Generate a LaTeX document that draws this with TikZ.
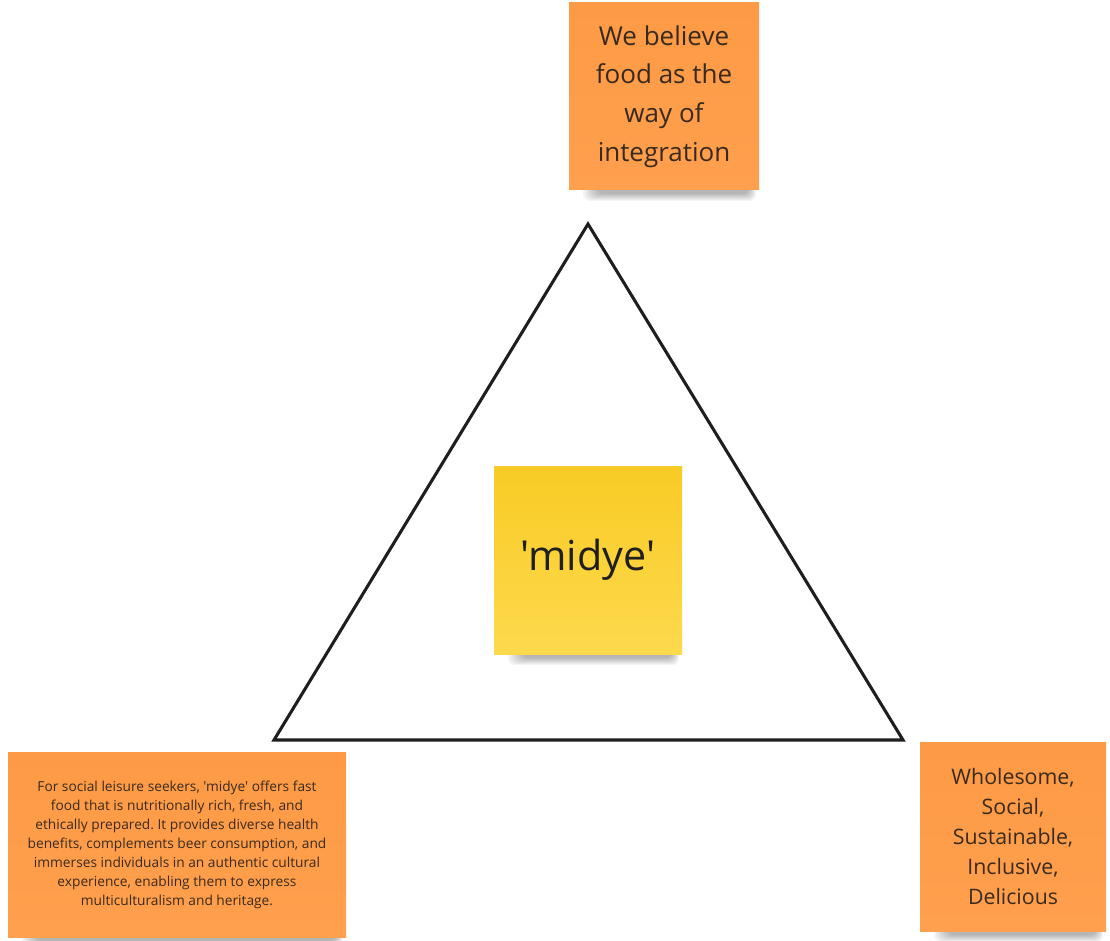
\documentclass[tikz,border=0pt]{standalone}
\usepackage{fontspec}
\setmainfont{Open Sans}[Ligatures=TeXOff]
\usetikzlibrary{calc}
\frenchspacing
\definecolor{orangetop}{HTML}{FD9A45}
\definecolor{orangebot}{HTML}{FFA04E}
\definecolor{yellowtop}{HTML}{F8CB25}
\definecolor{yellowbot}{HTML}{FDD94D}
\definecolor{notetext}{HTML}{3A2A1E}
\definecolor{edge}{HTML}{1E1E1E}
% soft shadow under the lower edge of a sticky note: #1 = left x, #2 = right x, #3 = bottom y
\newcommand\stickyshadow[3]{%
  \foreach \k in {0,...,7}{%
    \fill[black, opacity=0.04, rounded corners=5]
      (#1+14+2*\k, #3-14) rectangle (#2-3-\k, #3+11-\k);
  }%
}
\begin{document}
\begin{tikzpicture}[x=0.75pt, y=-0.75pt,
  sticky/.style={draw=none, inner sep=0pt, align=center, text=notetext,
    top color=orangetop, bottom color=orangebot},
  stickyyellow/.style={sticky, top color=yellowtop, bottom color=yellowbot, text=black!88}
]
\useasboundingbox[fill=white] (0,0) rectangle (1110,941);

% shadows
\stickyshadow{569}{759}{190}
\stickyshadow{494}{682}{654}
\stickyshadow{8}{346}{937}
\stickyshadow{920}{1106}{931}

% triangle
\coordinate (apex) at (588,224);
\coordinate (left) at (274,740);
\coordinate (right) at (903,740);
\draw[edge, line width=2.3pt, line join=miter] (apex) -- (left) -- (right) -- cycle;

% sticky notes
\node[sticky, minimum width=142.5pt, minimum height=140.25pt,
  font=\fontsize{19.5}{29}\selectfont] (belief) at (664,96.5)
  {We believe\\food as the\\way of\\integration};

\node[stickyyellow, minimum width=141pt, minimum height=141pt,
  font=\fontsize{31}{38}\selectfont] (brand) at (588,560) {'midye'};

\node[sticky, minimum width=253.5pt, minimum height=138.75pt,
  font=\fontsize{10.3}{14.3}\selectfont] (offer) at (177,844.5)
  {\raisebox{6pt}{\begin{tabular}{@{}c@{}}For social leisure seekers, 'midye' offers fast\\
   food that is nutritionally rich, fresh, and\\
   ethically prepared. It provides diverse health\\
   benefits, complements beer consumption, and\\
   immerses individuals in an authentic cultural\\
   experience, enabling them to express\\
   multiculturalism and heritage.\end{tabular}}};

\node[sticky, minimum width=139.5pt, minimum height=141.75pt,
  font=\fontsize{16}{22.5}\selectfont] (values) at (1013,836.5)
  {Wholesome,\\Social,\\Sustainable,\\Inclusive,\\Delicious};
\end{tikzpicture}
\end{document}
